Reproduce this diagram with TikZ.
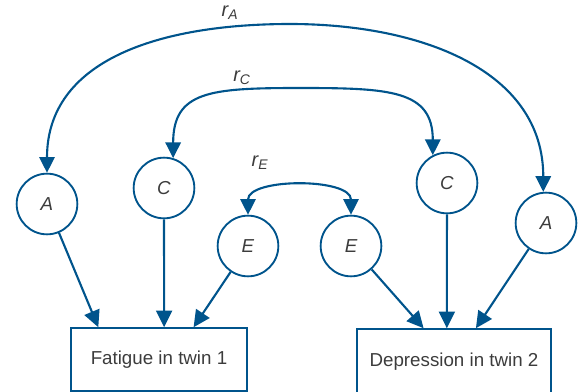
\documentclass[tikz,border=0pt]{standalone}
\usepackage{fontspec}
\setmainfont{Liberation Sans}
\usepackage{tikz}
\usetikzlibrary{arrows.meta, positioning}

\definecolor{pathblue}{RGB}{0,84,140}
\definecolor{textgrey}{RGB}{60,60,60}

\tikzset{
    factor/.style={circle, draw=pathblue, line width=1.6pt, minimum size=1.82cm,
        inner sep=0pt, text=textgrey, font=\fontsize{16}{19}\selectfont\itshape},
    trait/.style={rectangle, draw=pathblue, line width=1.3pt, inner sep=0pt,
        text=textgrey, font=\fontsize{16}{19}\selectfont},
    corr/.style={text=textgrey, font=\fontsize{17}{20}\selectfont\itshape},
    path/.style={draw=pathblue, line width=1.8pt, -{Triangle[length=0.5cm, width=0.48cm]}},
    twoway/.style={draw=pathblue, line width=1.8pt,
        {Triangle[length=0.47cm, width=0.46cm]}-{Triangle[length=0.47cm, width=0.46cm]}}
}

\begin{document}
\begin{tikzpicture}[x=0.03cm, y=-0.03cm]
    \useasboundingbox (0,0) rectangle (578,392);

    % latent factors, twin 1 and twin 2
    \node[factor] (A1) at (47,204) {A};
    \node[factor] (C1) at (164,188) {C};
    \node[factor] (E1) at (248,246) {E};
    \node[factor] (E2) at (351,246) {E};
    \node[factor] (C2) at (447,183) {C};
    \node[factor] (A2) at (546,223) {A};

    % observed traits
    \node[trait, minimum width=5.28cm, minimum height=1.89cm] (fat) at (159,359.5) {Fatigue in twin 1};
    \node[trait, minimum width=5.82cm, minimum height=1.98cm] (dep) at (454,362) {Depression in twin 2};

    % tops of the correlation arcs
    \coordinate (rAtop) at (290,24);
    \coordinate (rCtop) at (300,88);

    \node[corr] (rA) at (230,13) {r\textsubscript{A}};
    \node[corr] (rC) at (242,78) {r\textsubscript{C}};
    \node[corr] (rE) at (260,163) {r\textsubscript{E}};

    \path[twoway] (A1.north) .. controls +(0,-113) and +(-130,0) .. (rAtop)
        .. controls +(130,0) and +(0,-122) .. (A2.95);
    \path[twoway] (C1.73) .. controls +(0,-67) and +(-90,0) .. (rCtop)
        .. controls +(90,0) and +(0,-65) .. (C2.117);
    \path[twoway] (E1.north) .. controls +(0,-37) and +(0,-37) .. (E2.north);

    % paths to the traits
    \path[path] (A1) -- (fat.152);
    \path[path] (C1) -- (fat.81);
    \path[path] (E1) -- (fat.43);
    \path[path] (E2) -- (dep.132);
    \path[path] (C2) -- (dep.102);
    \path[path] (A2) -- (dep.57);
\end{tikzpicture}
\end{document}
